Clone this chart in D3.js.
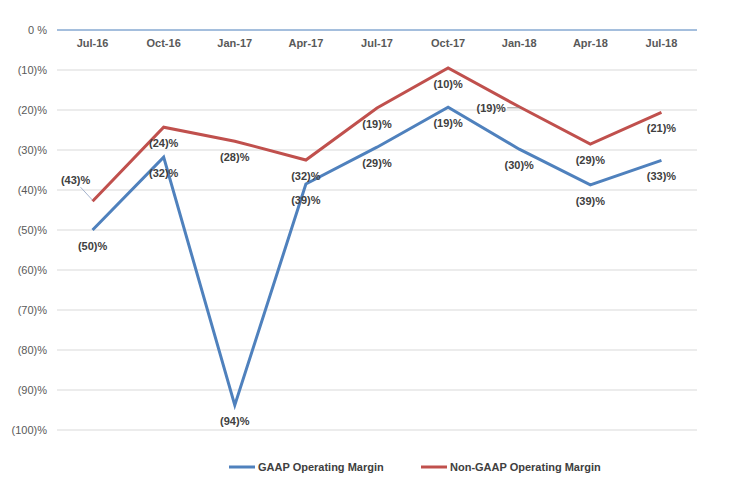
<!DOCTYPE html>
<html><head><meta charset="utf-8">
<script src="https://cdn.jsdelivr.net/npm/d3@7"></script>
<style>body{margin:0;background:#fff;font-family:"Liberation Sans",Arial,sans-serif}</style>
</head><body><svg id="c" width="737" height="489"></svg>
<script>
const categories = ["Jul-16","Oct-16","Jan-17","Apr-17","Jul-17","Oct-17","Jan-18","Apr-18","Jul-18"];
const gaap = [-50,-31.8,-93.8,-38.5,-29.3,-19.3,-29.8,-38.7,-32.6];
const nonGaap = [-42.8,-24.3,-27.8,-32.5,-19.5,-9.5,-19.2,-28.5,-20.6];
const gaapLabels = ["(50)%","(32)%","(94)%","(39)%","(29)%","(19)%","(30)%","(39)%","(33)%"];
const nonGaapLabels = ["(43)%","(24)%","(28)%","(32)%","(19)%","(10)%","(19)%","(29)%","(21)%"];
const yTicks = [0,-10,-20,-30,-40,-50,-60,-70,-80,-90,-100];
const yTickLabels = ["0 %","(10)%","(20)%","(30)%","(40)%","(50)%","(60)%","(70)%","(80)%","(90)%","(100)%"];
const seriesNames = ["GAAP Operating Margin","Non-GAAP Operating Margin"];
// label offsets (styling)
const gaapOff = [[0,16],[0,16],[0,16],[0,16],[0,16],[0,16],[0,16],[0,16],[0,16]];
const nonOff = [[-17,-21],[0,16],[0,16],[0,16],[0,16],[0,16],[-28,1],[0,16],[0,16]];

const svg = d3.select("#c");
const x = d3.scaleBand().domain(categories).range([57,697]);
const y = d3.scaleLinear().domain([-100,0]).range([430,30]);
const cx = d => x(d) + x.bandwidth()/2;

svg.append("g").selectAll("line").data(yTicks.slice(1)).join("line")
  .attr("x1",57).attr("x2",697).attr("y1",d=>y(d)).attr("y2",d=>y(d))
  .attr("stroke","#d9d9d9").attr("stroke-width",1);
svg.append("line").attr("x1",57).attr("x2",697).attr("y1",y(0)).attr("y2",y(0))
  .attr("stroke","#4a7ebb").attr("stroke-width",1);

svg.append("g").selectAll("text").data(yTicks).join("text")
  .attr("x",47).attr("y",d=>y(d)+4).attr("text-anchor","end")
  .attr("font-size",11).attr("fill","#595959").text((d,i)=>yTickLabels[i]);

svg.append("g").selectAll("text").data(categories).join("text")
  .attr("x",d=>cx(d)).attr("y",y(0)+17).attr("text-anchor","middle")
  .attr("font-size",11).attr("font-weight","bold").attr("fill","#595959").text(d=>d);

const line = d3.line().x((d,i)=>cx(categories[i])).y(d=>y(d));
svg.append("path").datum(nonGaap).attr("d",line).attr("fill","none")
  .attr("stroke","#c0504d").attr("stroke-width",3).attr("stroke-linejoin","miter");
svg.append("path").datum(gaap).attr("d",line).attr("fill","none")
  .attr("stroke","#4f81bd").attr("stroke-width",3).attr("stroke-linejoin","miter");

// leader lines
svg.append("line").attr("x1",cx(categories[0])-12).attr("y1",y(nonGaap[0])-14)
  .attr("x2",cx(categories[0])).attr("y2",y(nonGaap[0])-1).attr("stroke","#8ea0c0").attr("stroke-width",0.8);
svg.append("line").attr("x1",cx(categories[6])-12).attr("y1",y(nonGaap[6])+1)
  .attr("x2",cx(categories[6])+1).attr("y2",y(nonGaap[6])+1).attr("stroke","#808080").attr("stroke-width",0.8);

function labels(vals,labs,off){
  svg.append("g").selectAll("text").data(vals).join("text")
    .attr("x",(d,i)=>cx(categories[i])+off[i][0]).attr("y",(d,i)=>y(d)+off[i][1]+4)
    .attr("text-anchor","middle").attr("font-size",11).attr("font-weight","bold")
    .attr("fill","#404040").text((d,i)=>labs[i]);
}
labels(gaap,gaapLabels,gaapOff);
labels(nonGaap,nonGaapLabels,nonOff);

const lg = [{x:229,c:"#4f81bd"},{x:421,c:"#c0504d"}];
lg.forEach((l,i)=>{
  svg.append("line").attr("x1",l.x).attr("x2",l.x+26).attr("y1",467).attr("y2",467)
    .attr("stroke",l.c).attr("stroke-width",3);
  svg.append("text").attr("x",l.x+29).attr("y",471).attr("font-size",11)
    .attr("fill","#404040").attr("font-weight","bold").text(seriesNames[i]);
});
</script></body></html>
